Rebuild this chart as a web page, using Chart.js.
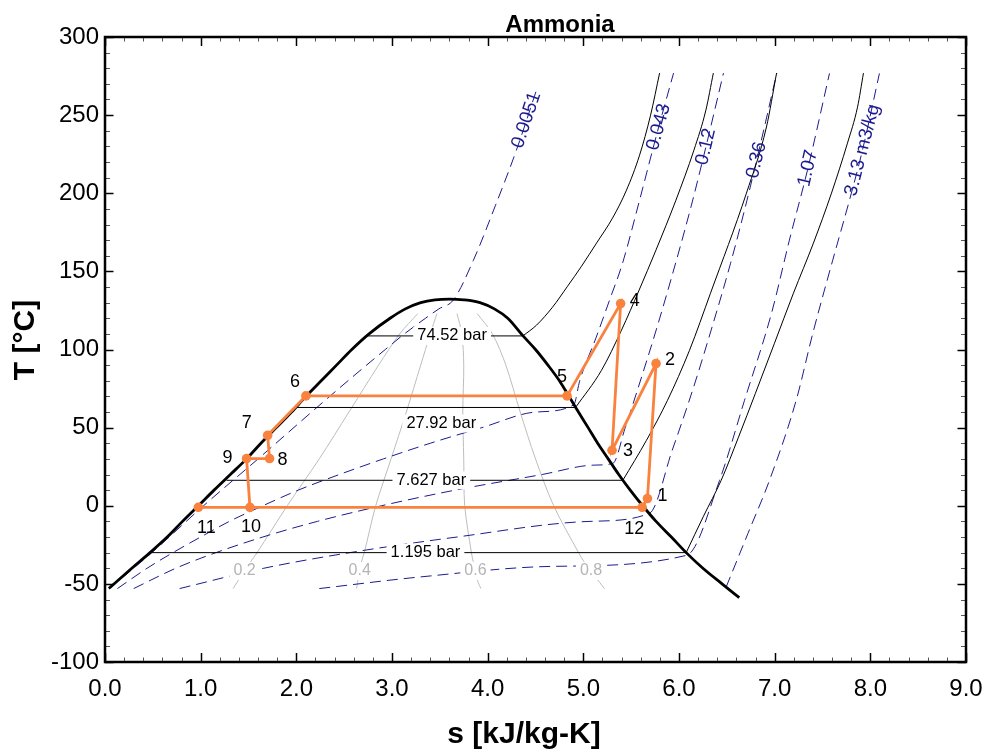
<!DOCTYPE html>
<html>
<head>
<meta charset="utf-8">
<script src="https://cdn.jsdelivr.net/npm/chart.js@4.4.1/dist/chart.umd.min.js"></script>
<style>
  html, body { margin: 0; padding: 0; background: #ffffff; }
  canvas { display: block; }
</style>
</head>
<body>
<canvas id="ts" width="987" height="755"></canvas>
<script>
// ---------- Ammonia T-s diagram data (s in kJ/kg-K, T in °C) ----------

// Saturation dome, liquid side up to the critical point and down the vapour side
const domeS = [0.04, 0.28, 0.47, 0.65, 0.81, 0.976, 1.14, 1.31, 1.48, 1.63, 1.79, 1.95, 2.10, 2.26, 2.42, 2.58, 2.76, 2.98, 3.14, 3.30, 3.45, 3.60,
               3.75, 3.92, 4.07, 4.21, 4.37, 4.50, 4.63, 4.75, 4.85, 4.92, 5.05, 5.15, 5.26, 5.37, 5.49, 5.62, 5.76, 5.92, 6.075, 6.25, 6.45, 6.63];
const domeT = [-53, -40, -30, -20, -10, 0, 10, 20, 30, 40, 50, 60, 70, 80, 90, 100, 110, 120, 126, 130, 131.8, 132.3,
               131.8, 130, 126, 120, 108.7, 100, 90, 80, 70, 62.9, 50, 40, 30, 20, 10, 0, -10, -20, -30, -40, -50, -58.8];

// Cycle state points, listed in drawing order
const cycleLabels = ['11', '12', '1', '2', '3', '4', '5', '6', '7', '8', '9', '10'];
const cycleS = [0.976, 5.615, 5.67, 5.76, 5.30, 5.39, 4.83, 2.10, 1.70, 1.72, 1.48, 1.515];
const cycleT = [-1, -1, 4.6, 91.0, 35.5, 129.4, 70.3, 70.3, 45.1, 30.2, 30.2, -1];

// Isobars: saturation temperature and liquid / vapour entropy
const isobarNames = ['74.52 bar', '27.92 bar', '7.627 bar', '1.195 bar'];
const isobarTsat = [108.7, 62.9, 16.3, -30];
const isobarSf = [2.73, 2.00, 1.27, 0.47];
const isobarSg = [4.37, 4.92, 5.41, 6.075];

// Isobars in the superheated region
const p7452S = [4.368, 4.511, 4.678, 4.835, 4.981, 5.138, 5.305, 5.451, 5.588, 5.703, 5.797];
const p7452T = [108.7, 115.6, 127.1, 140.5, 153.3, 168.1, 184.1, 202.0, 224.4, 250.0, 276.9];
const p2792S = [4.919, 5.190, 5.399, 5.583, 5.759, 5.968, 6.156, 6.281, 6.359];
const p2792T = [62.9, 86.7, 112.4, 138.0, 163.6, 195.6, 227.6, 253.2, 276.9];
const p7627S = [5.413, 5.660, 5.880, 6.110, 6.329, 6.705, 6.914, 7.020];
const p7627T = [16.3, 41.9, 67.5, 99.5, 136.0, 200.1, 242.4, 276.9];
const p1195S = [6.075, 6.256, 6.441, 6.622, 6.799, 6.998, 7.196, 7.405, 7.594, 7.761, 7.866, 7.928];
const p1195T = [-30, -6.7, 16.3, 43.9, 72.0, 104.0, 136.0, 168.1, 200.1, 232.1, 255.1, 276.9];

// Lines of constant specific volume (m3/kg)
const v0051S = [0.045, 0.49, 1.03, 1.60, 2.16, 2.54, 2.93, 3.13, 3.35, 3.49, 3.64, 3.85, 4.08, 4.30, 4.51];
const v0051T = [-53, -30, 0, 30, 60, 80, 100, 110, 120, 126, 131.6, 157, 192, 227.5, 266];
const v043S = [0.13, 0.44, 0.71, 1.00, 1.30, 1.65, 2.02, 2.45, 2.91, 3.40, 3.94, 4.51, 4.90, 4.961, 5.135, 5.274, 5.410, 5.588, 5.765, 5.943];
const v043T = [-53, -40, -30, -20, -10, 0, 10, 20, 30, 40, 50, 60, 64.6, 79.7, 107.9, 131.6, 155.3, 195.6, 237.2, 276.9];
const v12S = [0.30, 0.74, 1.16, 1.65, 2.22, 2.89, 3.66, 4.57, 5.11, 5.308, 5.436, 5.556, 5.771, 5.974, 6.13, 6.281, 6.465];
const v12T = [-53, -40, -30, -20, -10, 0, 10, 20, 26, 27.1, 49.6, 72.2, 114.4, 157.3, 192.4, 229.6, 276.9];
const v36S = [0.78, 1.66, 2.56, 3.68, 5.07, 5.692, 5.929, 6.142, 6.336, 6.539, 6.711, 6.861, 7.022];
const v36T = [-53, -40, -30, -20, -10, -4.8, 35.5, 73.9, 112.4, 155.2, 195.6, 234.0, 276.9];
const v107S = [2.24, 3.29, 4.68, 6.08, 6.424, 6.685, 6.967, 7.154, 7.343, 7.573];
const v107T = [-53, -45.6, -38.8, -31.7, 16.3, 67.5, 123.2, 170.0, 214.8, 276.7];
const v313S = [6.493, 6.720, 6.946, 7.225, 7.398, 7.607, 7.782, 7.918, 8.095];
const v313T = [-52.0, -17.8, 16.3, 67.5, 110.2, 157.2, 195.6, 227.6, 276.7];
const volumeNames = ['0.0051', '0.043', '0.12', '0.36', '1.07', '3.13 m3/kg'];
const volumeLabelT = [246.8, 242.4, 229.7, 221.2, 216.0, 227.6];

// Lines of constant quality
const qualityNames = ['0.2', '0.4', '0.6', '0.8'];
const qualityT = [-53, -49, -36, -30, 0, 30, 60, 90, 110, 123];
const q02S = [1.34, 1.38, 1.52, 1.59, 1.905, 2.24, 2.55, 2.86, 3.08, 3.27];
const q04S = [2.63, 2.64, 2.68, 2.71, 2.83, 2.99, 3.15, 3.30, 3.40, 3.47];
const q06S = [3.93, 3.90, 3.85, 3.83, 3.76, 3.75, 3.74, 3.75, 3.73, 3.68];
const q08S = [5.22, 5.17, 5.01, 4.95, 4.69, 4.50, 4.34, 4.19, 4.05, 3.89];

// Axis ranges and tick steps
const sRange = [0, 9];
const tRange = [-100, 300];
const sStep = 1;
const tStep = 50;

// ---------- styling ----------
const FONT = '"Liberation Sans", Arial, Helvetica, sans-serif';
const ORANGE = '#f8823e';
const NAVY = '#1b1b8f';
const GREY = '#bdbdbd';

const pts = (s, t) => s.map((v, i) => ({ x: v, y: t[i] }));

const volumeLines = [[v0051S, v0051T], [v043S, v043T], [v12S, v12T], [v36S, v36T], [v107S, v107T], [v313S, v313T]];
const qualityLines = [q02S, q04S, q06S, q08S];
const superLines = [[p7452S, p7452T], [p2792S, p2792T], [p7627S, p7627T], [p1195S, p1195T]];

const datasets = [];

datasets.push({
  label: 'cycle', data: pts(cycleS, cycleT), order: 0,
  showLine: true, borderColor: ORANGE, borderWidth: 2.8, tension: 0,
  pointRadius: 4.8, pointBackgroundColor: ORANGE, pointBorderColor: ORANGE, pointBorderWidth: 0
});

datasets.push({
  label: 'dome', data: pts(domeS, domeT), order: 1,
  showLine: true, borderColor: '#000', borderWidth: 2.8, cubicInterpolationMode: 'monotone', pointRadius: 0
});

isobarNames.forEach((n, i) => {
  datasets.push({
    label: n, data: [{ x: isobarSf[i], y: isobarTsat[i] }, { x: isobarSg[i], y: isobarTsat[i] }], order: 2,
    showLine: true, borderColor: '#000', borderWidth: 1, tension: 0, pointRadius: 0
  });
  datasets.push({
    label: n + ' sh', data: pts(superLines[i][0], superLines[i][1]), order: 2,
    showLine: true, borderColor: '#000', borderWidth: 1, cubicInterpolationMode: 'monotone', pointRadius: 0
  });
});

volumeLines.forEach((l, i) => {
  datasets.push({
    label: volumeNames[i], data: pts(l[0], l[1]), order: 3,
    showLine: true, borderColor: NAVY, borderWidth: 1, borderDash: [11, 6], cubicInterpolationMode: 'monotone', pointRadius: 0
  });
});

qualityLines.forEach((s, i) => {
  datasets.push({
    label: 'x=' + qualityNames[i], data: pts(s, qualityT), order: 4,
    showLine: true, borderColor: GREY, borderWidth: 1, tension: 0.3, pointRadius: 0
  });
});

// position along a polyline at a given temperature
function along(s, t, T) {
  for (let i = 0; i < t.length - 1; i++) {
    if ((t[i] - T) * (t[i + 1] - T) <= 0) {
      const f = (T - t[i]) / (t[i + 1] - t[i]);
      return { s: s[i] + f * (s[i + 1] - s[i]), i };
    }
  }
  return { s: s[s.length - 1], i: s.length - 2 };
}

function boxedText(ctx, text, x, y, color) {
  const w = ctx.measureText(text).width;
  ctx.fillStyle = '#ffffff';
  ctx.fillRect(x - w / 2 - 4, y - 9, w + 8, 18);
  ctx.fillStyle = color;
  ctx.fillText(text, x, y);
}

// offsets of the state-point numbers from their markers (px)
const pointLabelOffset = {
  '1': [15, -3], '2': [14, -4], '3': [16, 1], '4': [14, -3], '5': [-5, -19], '6': [-11, -14],
  '7': [-21, -12], '8': [13, 1], '9': [-19, -1], '10': [1, 20], '11': [8, 21], '12': [-8, 22]
};

const annotations = {
  id: 'annotations',
  afterDatasetsDraw(chart) {
    const { ctx, scales: { x, y } } = chart;
    ctx.save();
    ctx.textAlign = 'center';
    ctx.textBaseline = 'middle';

    // isobar labels
    ctx.font = '16.5px ' + FONT;
    const isoLabelAt = [[3.628, 108.7], [3.515, 52.6], [3.411, 16.3], [3.350, -30]];
    isobarNames.forEach((n, i) => {
      boxedText(ctx, n, x.getPixelForValue(isoLabelAt[i][0]), y.getPixelForValue(isoLabelAt[i][1]), '#000');
    });

    // quality labels
    ctx.font = '16px ' + FONT;
    qualityLines.forEach((s, i) => {
      const p = along(s, qualityT, -41.7);
      boxedText(ctx, qualityNames[i], x.getPixelForValue(p.s), y.getPixelForValue(-41.7), '#b4b4b4');
    });

    // specific volume labels, rotated along their line
    ctx.font = '19px ' + FONT;
    ctx.fillStyle = NAVY;
    volumeLines.forEach((l, i) => {
      const T = volumeLabelT[i];
      const p = along(l[0], l[1], T);
      const x0 = x.getPixelForValue(l[0][p.i]), y0 = y.getPixelForValue(l[1][p.i]);
      const x1 = x.getPixelForValue(l[0][p.i + 1]), y1 = y.getPixelForValue(l[1][p.i + 1]);
      ctx.save();
      ctx.translate(x.getPixelForValue(p.s), y.getPixelForValue(T));
      ctx.rotate(Math.atan2(y1 - y0, x1 - x0));
      ctx.fillText(volumeNames[i], 0, 0);
      ctx.restore();
    });

    // state point numbers
    ctx.font = '18px ' + FONT;
    ctx.fillStyle = '#000';
    cycleLabels.forEach((lab, i) => {
      const o = pointLabelOffset[lab];
      ctx.fillText(lab, x.getPixelForValue(cycleS[i]) + o[0], y.getPixelForValue(cycleT[i]) + o[1]);
    });
    ctx.restore();
  },
  afterDraw(chart) {
    const { ctx, chartArea: a, scales: { x, y } } = chart;
    ctx.save();
    const seg = (x1, y1, x2, y2) => { ctx.beginPath(); ctx.moveTo(x1, y1); ctx.lineTo(x2, y2); ctx.stroke(); };

    // inward ticks on all four sides
    for (let i = 0; i <= 45; i++) {
      const px = Math.round(x.getPixelForValue(i * 0.2)) + 0.5;
      const major = i % 5 === 0;
      const len = major ? 9 : 4.5;
      ctx.strokeStyle = major ? '#000' : '#555';
      ctx.lineWidth = major ? 1.5 : 1;
      seg(px, a.bottom, px, a.bottom - len);
      seg(px, a.top, px, a.top + len);
    }
    for (let i = 0; i <= 40; i++) {
      const py = Math.round(y.getPixelForValue(-100 + i * 10)) + 0.5;
      const major = i % 5 === 0;
      const len = major ? 8.5 : 5;
      ctx.strokeStyle = major ? '#000' : '#555';
      ctx.lineWidth = major ? 1.5 : 1;
      seg(a.left, py, a.left + len, py);
      seg(a.right, py, a.right - len, py);
    }

    // frame
    ctx.strokeStyle = '#000';
    ctx.lineWidth = 2.5;
    ctx.strokeRect(a.left, a.top, a.right - a.left, a.bottom - a.top);

    // titles
    ctx.fillStyle = '#000';
    ctx.textAlign = 'center';
    ctx.textBaseline = 'alphabetic';
    ctx.font = 'bold 24px ' + FONT;
    ctx.fillText('Ammonia', 560, 32);
    ctx.textBaseline = 'middle';
    ctx.font = 'bold 30px ' + FONT;
    ctx.fillText('s [kJ/kg-K]', 524, 735);
    ctx.save();
    ctx.translate(26, 340);
    ctx.rotate(-Math.PI / 2);
    ctx.fillText('T [°C]', 0, 0);
    ctx.restore();
    ctx.restore();
  }
};

new Chart(document.getElementById('ts'), {
  type: 'scatter',
  data: { datasets },
  options: {
    responsive: false,
    animation: false,
    layout: { padding: { top: 37, right: 21, left: 0, bottom: 0 } },
    plugins: { legend: { display: false }, tooltip: { enabled: false }, title: { display: false } },
    scales: {
      x: {
        type: 'linear', min: sRange[0], max: sRange[1],
        grid: { display: false, drawTicks: false },
        border: { display: false },
        ticks: { stepSize: sStep, padding: 13, color: '#000', font: { family: FONT, size: 24 },
                 callback: v => Number(v).toFixed(1) },
        afterFit: s => { s.height = 93; s.paddingLeft = 0; s.paddingRight = 0; }
      },
      y: {
        type: 'linear', min: tRange[0], max: tRange[1],
        grid: { display: false, drawTicks: false },
        border: { display: false },
        ticks: { stepSize: tStep, padding: 6, color: '#000', font: { family: FONT, size: 24 } },
        afterFit: s => { s.width = 105; s.paddingTop = 0; s.paddingBottom = 0; }
      }
    }
  },
  plugins: [annotations]
});
</script>
</body>
</html>
